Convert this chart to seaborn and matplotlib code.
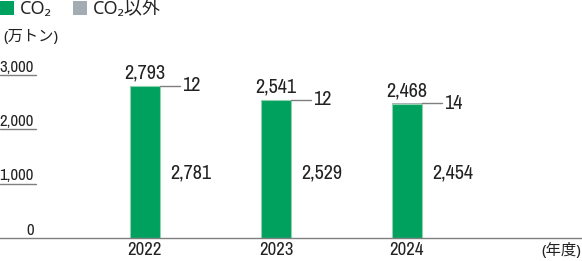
import matplotlib
matplotlib.use("Agg")
import matplotlib.pyplot as plt
import matplotlib.transforms as mtransforms
from matplotlib import font_manager as fm
from matplotlib.patches import Patch
import seaborn as sns
import pandas as pd

years = ["2022", "2023", "2024"]
co2 = [2781, 2529, 2454]
other = [12, 12, 14]
totals = [2793, 2541, 2468]
yticks = [0, 1000, 2000, 3000]
ytick_labels = ["0", "1,000", "2,000", "3,000"]
legend_labels = ["CO₂", "CO₂以外"]
unit_label = "(万トン)"
xunit_label = "(年度)"

GREEN = "#00a05f"
GREEN_EDGE = "#8fd3ad"
GRAY = "#a3acb3"
LINE = "#7f7f7f"
TXT = "#222222"

sns.set_theme(style="white")
FAM = ["Noto Sans", "Noto Sans CJK JP", "DejaVu Sans"]
plt.rcParams["font.family"] = FAM


def pick_narrow():
    cands = []
    for f in fm.fontManager.ttflist:
        nm = f.name.lower()
        path = f.fname.lower()
        if f.weight not in (400, "normal", "regular", "book") or f.style != "normal":
            continue
        score = None
        if "narrow" in nm or "narrow" in path:
            score = 0 if "liberation" in (nm + path) else 1
        elif "condensed" in path or "condensed" in nm or str(f.stretch) in ("condensed", "semi-condensed", "extra-condensed"):
            if "semi" in path or "extra" in path or "ultra" in path:
                score = 4
            elif "roboto" in path:
                score = 2
            else:
                score = 3
        if score is not None:
            cands.append((score, f.fname))
    if cands:
        cands.sort()
        return fm.FontProperties(fname=cands[0][1])
    return fm.FontProperties(family="Roboto")


NUM = pick_narrow()


def numfp(size):
    p = NUM.copy()
    p.set_size(size)
    return p


df = pd.DataFrame({"year": years, "co2": co2, "total": totals})

fig = plt.figure(figsize=(5.82, 2.61), dpi=100)
ax = fig.add_axes([0, 23 / 261, 1, 163.5 / 261])

sns.barplot(data=df, x="year", y="total", order=years, color=GRAY, width=0.23,
            saturation=1, ax=ax, edgecolor=GRAY, linewidth=0.6)
sns.barplot(data=df, x="year", y="co2", order=years, color=GREEN, width=0.23,
            saturation=1, ax=ax, edgecolor=GREEN_EDGE, linewidth=0.8)

ax.set_xlim(-145 / 131, -145 / 131 + 582 / 131)
ax.set_ylim(0, 3000)
for s in ["top", "right", "left"]:
    ax.spines[s].set_visible(False)
ax.spines["bottom"].set_color(LINE)
ax.spines["bottom"].set_linewidth(1)
ax.set_xlabel("")
ax.set_ylabel("")
ax.set_yticks([])
ax.set_xticks(range(len(years)))
ax.set_xticklabels(years, fontproperties=numfp(13.5), color=TXT)
ax.tick_params(axis="x", length=0, pad=3)

trans = mtransforms.blended_transform_factory(ax.transAxes, ax.transData)
for v, lab in zip(yticks, ytick_labels):
    ax.text(34 / 582, v, lab, transform=trans, ha="right", va="bottom",
            fontproperties=numfp(12), color=TXT, clip_on=False)
    if v > 0:
        ax.plot([0, 36 / 582], [v, v], transform=trans, color=LINE, lw=1,
                clip_on=False)

hw = 0.115
for i, (c, o, t) in enumerate(zip(co2, other, totals)):
    ax.annotate(f"{t:,}", (i, t), xytext=(0, 2.5), textcoords="offset points",
                ha="center", va="bottom", fontproperties=numfp(14.5), color=TXT,
                annotation_clip=False)
    ax.plot([i + hw, i + hw + 20 / 131], [t, t], color=LINE, lw=1, clip_on=False)
    ax.text(i + hw + 22 / 131, t, f"{o:,}", ha="left", va="center",
            fontproperties=numfp(14.5), color=TXT, clip_on=False)
    ax.text(i + 25 / 131, 1200, f"{c:,}", ha="left", va="center",
            fontproperties=numfp(14.5), color=TXT)

handles = [Patch(facecolor=GREEN, edgecolor="none"),
           Patch(facecolor=GRAY, edgecolor="none")]
fig.legend(handles, legend_labels, loc="upper left", bbox_to_anchor=(0, 1.0),
           ncol=2, frameon=False, handlelength=0.8,
           handleheight=0.8, handletextpad=0.28, columnspacing=1.2,
           borderpad=0, borderaxespad=0, labelcolor=TXT,
           prop={"family": FAM, "size": 13})

fig.text(3 / 582, 1 - 38 / 261, unit_label, ha="left", va="center",
         fontsize=11, color=TXT, family=FAM)
fig.text(581 / 582, 1 - 251 / 261, xunit_label, ha="right", va="center",
         fontsize=11, color=TXT, family=FAM)

fig.savefig("out.png", dpi=100)
